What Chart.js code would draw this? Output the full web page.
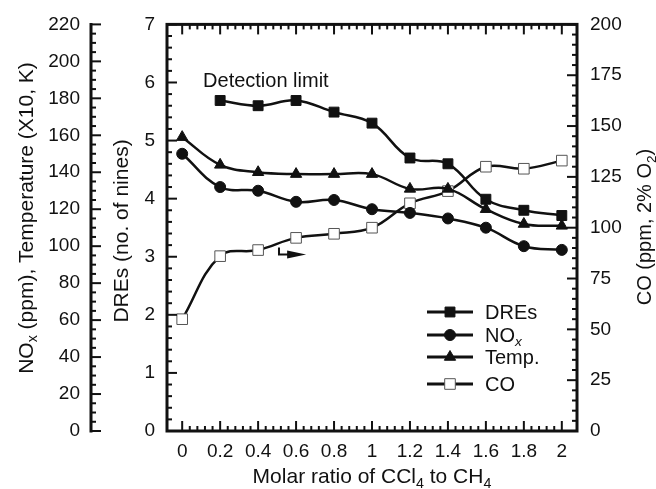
<!DOCTYPE html>
<html>
<head>
<meta charset="utf-8">
<script src="https://cdn.jsdelivr.net/npm/chart.js@4/dist/chart.umd.min.js"></script>
<style>
  html, body { margin: 0; padding: 0; background: #fff; }
  #wrap { width: 656px; height: 489px; }
</style>
</head>
<body>
<div id="wrap"><canvas id="chart"></canvas></div>
<script>
// molar ratio CCl4 / CH4
var xValues = [0, 0.2, 0.4, 0.6, 0.8, 1, 1.2, 1.4, 1.6, 1.8, 2];
var xTickLabels = ['0', '0.2', '0.4', '0.6', '0.8', '1', '1.2', '1.4', '1.6', '1.8', '2'];

// left inner axis (no. of nines), no point at 0
var dreValues = [null, 5.69, 5.6, 5.69, 5.49, 5.3, 4.7, 4.6, 3.99, 3.8, 3.71];
// left outer axis (ppm / X10 K)
var noxValues = [150, 132, 130, 124, 125, 120, 118, 115, 110, 100, 98];
var tempValues = [159, 144, 140, 139, 139, 139, 131, 131, 120, 112, 111];
// right axis (ppm, 2% O2)
var coValues = [55, 86, 89, 95, 97, 100, 112, 118, 130, 129, 133];

var FONT = '"Liberation Sans", Arial, Helvetica, sans-serif';
var INK = '#111';

function pts(vals) {
    return xValues.map(function (x, i) { return { x: x, y: vals[i] }; });
}

// text with subscripts: parts = [[text, 'sub'|'isub'|undefined], ...]
function richWidth(ctx, parts, size) {
    var w = 0;
    parts.forEach(function (p) {
        var s = p[1] ? size * 0.68 : size;
        ctx.font = (p[1] === 'isub' ? 'italic ' : '') + s + 'px ' + FONT;
        w += ctx.measureText(p[0]).width;
    });
    return w;
}
function drawRich(ctx, parts, x, y, size) {
    // x = left start, y = baseline
    parts.forEach(function (p) {
        var s = p[1] ? size * 0.68 : size;
        ctx.font = (p[1] === 'isub' ? 'italic ' : '') + s + 'px ' + FONT;
        ctx.fillText(p[0], x, p[1] ? y + size * 0.22 : y);
        x += ctx.measureText(p[0]).width;
    });
}
function drawRotTitle(ctx, parts, cx, cy, size) {
    ctx.save();
    ctx.translate(cx, cy);
    ctx.rotate(-Math.PI / 2);
    var w = richWidth(ctx, parts, size);
    drawRich(ctx, parts, -w / 2, size * 0.36, size);
    ctx.restore();
}

var framePlugin = {
    id: 'frame',
    afterDatasetsDraw: function (chart) {
        var ctx = chart.ctx, a = chart.chartArea, s = chart.scales;
        var x = s.x, yd = s.yDre, yn = s.yNox, yc = s.yCo;
        ctx.save();
        ctx.strokeStyle = INK;
        ctx.fillStyle = INK;
        ctx.lineCap = 'butt';

        function line(x1, y1, x2, y2) {
            ctx.beginPath(); ctx.moveTo(x1, y1); ctx.lineTo(x2, y2); ctx.stroke();
        }

        ctx.lineWidth = 2;
        var i, p, L;
        // bottom + top ticks
        for (i = 0; i <= 50; i++) {
            p = x.getPixelForValue(i * 0.04);
            L = i % 5 === 0 ? 10 : 5;
            line(p, a.bottom, p, a.bottom - L);
            line(p, a.top, p, a.top + L);
        }
        // DRE ticks (inside, left)
        for (i = 0; i <= 35; i++) {
            p = yd.getPixelForValue(i * 0.2);
            L = i % 5 === 0 ? 10 : 5;
            line(a.left, p, a.left + L, p);
        }
        // CO ticks (inside, right)
        for (i = 0; i <= 40; i++) {
            p = yc.getPixelForValue(i * 5);
            L = i % 5 === 0 ? 10 : 5;
            line(a.right, p, a.right - L, p);
        }
        // NOx / temperature axis
        var nx = yn.right;
        for (i = 0; i <= 44; i++) {
            p = yn.getPixelForValue(i * 5);
            L = i % 4 === 0 ? 10 : 5;
            line(nx, p, nx + L, p);
        }

        ctx.lineWidth = 3;
        ctx.strokeRect(a.left, a.top, a.right - a.left, a.bottom - a.top);
        line(nx, a.top - 1.5, nx, a.bottom + 1.5);

        // axis titles
        drawRotTitle(ctx, [['NO'], ['x', 'sub'], [' (ppm), Temperature (X10, K)']], 25, 218, 21);
        drawRotTitle(ctx, [['DREs (no. of nines)']], 120, 231, 21);
        drawRotTitle(ctx, [['CO (ppm, 2% O'], ['2', 'sub'], [')']], 644, 227, 20);
        var xt = [['Molar ratio of CCl'], ['4', 'sub'], [' to CH'], ['4', 'sub']];
        var xw = richWidth(ctx, xt, 21);
        drawRich(ctx, xt, (a.left + a.right) / 2 - xw / 2, 483, 21);

        // note
        ctx.font = '20px ' + FONT;
        ctx.textBaseline = 'middle';
        ctx.fillText('Detection limit', x.getPixelForValue(0.11), yd.getPixelForValue(6.02));
        ctx.textBaseline = 'alphabetic';

        // bent arrow pointing at the CO axis
        ctx.lineWidth = 2;
        var ax = x.getPixelForValue(0.51), ay1 = yc.getPixelForValue(90.2), ay2 = yc.getPixelForValue(86.8);
        var tip = x.getPixelForValue(0.653);
        ctx.beginPath(); ctx.moveTo(ax, ay1); ctx.lineTo(ax, ay2); ctx.lineTo(tip - 12, ay2); ctx.stroke();
        ctx.beginPath(); ctx.moveTo(tip, ay2); ctx.lineTo(tip - 19, ay2 - 4); ctx.lineTo(tip - 19, ay2 + 4); ctx.closePath(); ctx.fill();

        // legend
        var rows = [
            { y: 312, style: 'rect', r: 7, fill: INK, stroke: INK, bw: 1, label: [['DREs']] },
            { y: 335, style: 'circle', r: 5.5, fill: INK, stroke: INK, bw: 1, label: [['NO'], ['x', 'isub']] },
            { y: 357, style: 'triangle', r: 6.5, fill: INK, stroke: INK, bw: 1, label: [['Temp.']] },
            { y: 384, style: 'rect', r: 7.5, fill: '#fff', stroke: '#555', bw: 1, label: [['CO']] }
        ];
        rows.forEach(function (r) {
            ctx.strokeStyle = INK;
            ctx.lineWidth = 3;
            line(427, r.y, 473, r.y);
            ctx.fillStyle = r.fill;
            ctx.strokeStyle = r.stroke;
            ctx.lineWidth = r.bw;
            Chart.helpers.drawPoint(ctx, { pointStyle: r.style, radius: r.r, rotation: 0, borderWidth: r.bw }, 450, r.y);
            ctx.fillStyle = INK;
            drawRich(ctx, r.label, 485, r.y + 7, 20);
        });
        ctx.restore();
    }
};

function series(label, vals, axis, style, radius, fill, stroke) {
    return {
        label: label,
        data: pts(vals),
        yAxisID: axis,
        borderColor: INK,
        borderWidth: 2.5,
        tension: 0.4,
        pointStyle: style,
        pointRadius: radius,
        pointBackgroundColor: fill,
        pointBorderColor: stroke,
        pointBorderWidth: 1,
        fill: false
    };
}

var tickFont = { family: FONT, size: 19 };

new Chart(document.getElementById('chart'), {
    type: 'line',
    data: {
        datasets: [
            series('DREs', dreValues, 'yDre', 'rect', 7, INK, INK),
            series('NOx', noxValues, 'yNox', 'circle', 5.5, INK, INK),
            series('Temp.', tempValues, 'yNox', 'triangle', 6.5, INK, INK),
            series('CO', coValues, 'yCo', 'rect', 7.5, '#fff', '#555')
        ]
    },
    options: {
        responsive: true,
        maintainAspectRatio: false,
        animation: false,
        events: [],
        layout: { padding: { top: 23, left: 0, right: 0, bottom: 0 } },
        plugins: { legend: { display: false }, tooltip: { enabled: false } },
        scales: {
            x: {
                type: 'linear',
                min: -0.08,
                max: 2.08,
                grid: { display: false, drawTicks: false },
                border: { display: false },
                afterBuildTicks: function (sc) {
                    sc.ticks = xValues.map(function (v) { return { value: v }; });
                },
                afterFit: function (sc) { sc.height = 58; },
                ticks: {
                    autoSkip: false, maxRotation: 0, padding: 9, color: INK, font: tickFont,
                    callback: function (v, i) { return xTickLabels[i]; }
                }
            },
            yNox: {
                position: 'left',
                weight: 10,
                min: 0, max: 220,
                grid: { display: false, drawTicks: false },
                border: { display: false },
                afterFit: function (sc) { sc.width = 91; },
                ticks: { stepSize: 20, padding: 11, color: INK, font: tickFont }
            },
            yDre: {
                position: 'left',
                weight: 0,
                min: 0, max: 7,
                grid: { display: false, drawTicks: false },
                border: { display: false },
                afterFit: function (sc) { sc.width = 76; },
                ticks: { stepSize: 1, padding: 12, color: INK, font: tickFont }
            },
            yCo: {
                position: 'right',
                min: 0, max: 200,
                grid: { display: false, drawTicks: false },
                border: { display: false },
                afterFit: function (sc) { sc.width = 79; },
                ticks: { stepSize: 25, padding: 13, color: INK, font: tickFont }
            }
        }
    },
    plugins: [framePlugin]
});
</script>
</body>
</html>
